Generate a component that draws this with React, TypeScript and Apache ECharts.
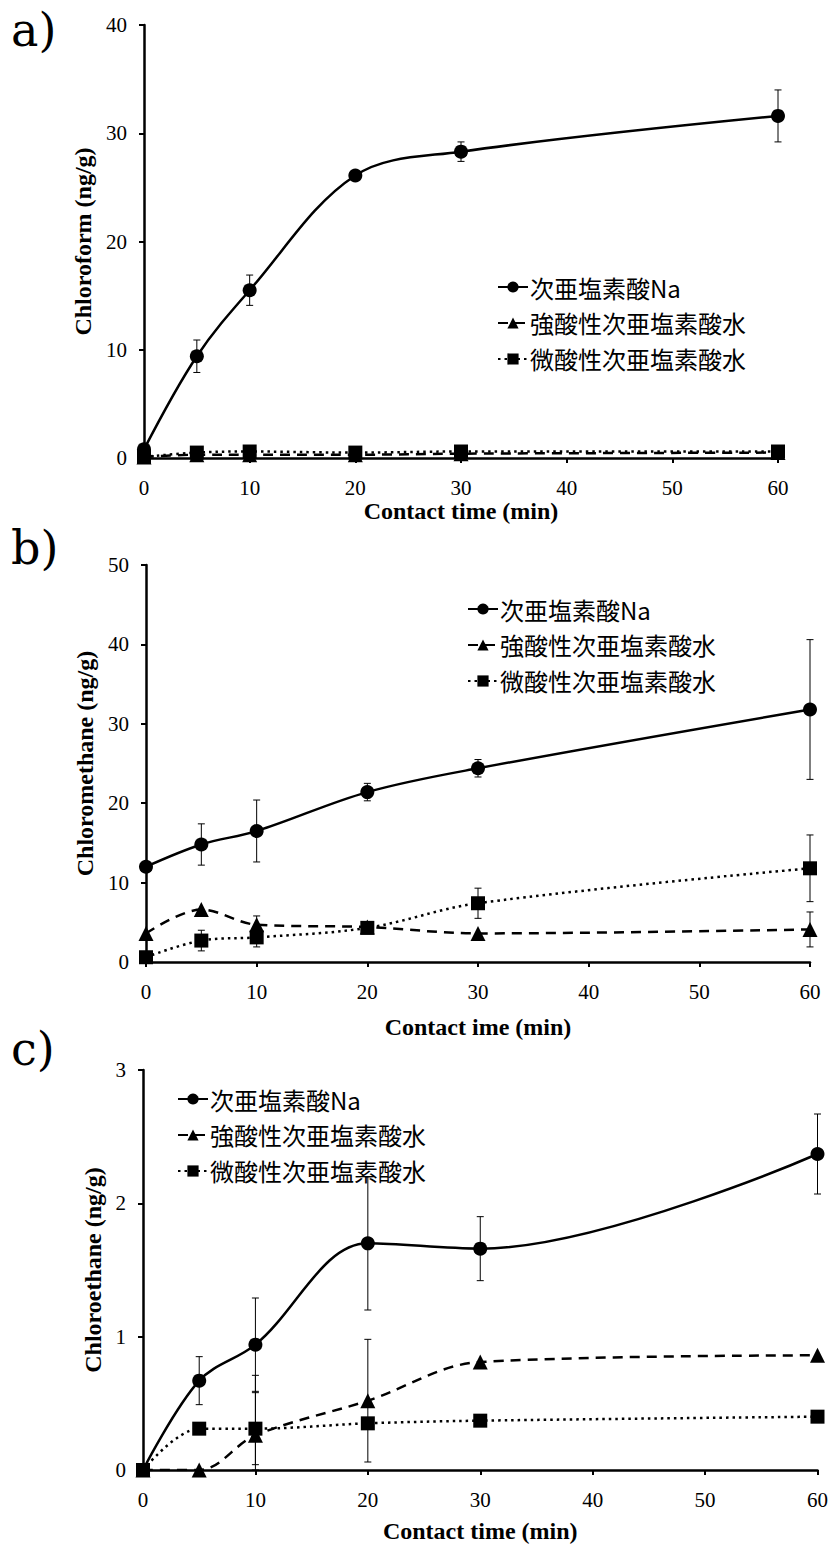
import React, { useEffect, useRef } from "react";
import * as echarts from "echarts";

const timeMin = [0, 5, 10, 20, 30, 60];
const xTicks = [0, 10, 20, 30, 40, 50, 60];
const seriesNames = ["次亜塩素酸Na", "強酸性次亜塩素酸水", "微酸性次亜塩素酸水"];

// Panel a) Chloroform
const aNa = [0.8, 9.4, 15.5, 26.1, 28.3, 31.6];
const aNaErr = [0, 1.5, 1.4, 0.3, 0.9, 2.4];
const aStrong = [0.1, 0.3, 0.3, 0.3, 0.4, 0.5];
const aStrongErr = [0, 0, 0, 0, 0, 0];
const aWeak = [0.1, 0.5, 0.6, 0.5, 0.6, 0.6];
const aWeakErr = [0, 0, 0, 0, 0, 0];

// Panel b) Chloromethane
const bNa = [12.0, 14.8, 16.5, 21.4, 24.4, 31.8];
const bNaErr = [0, 2.6, 3.9, 1.1, 1.1, 8.8];
const bStrong = [3.6, 6.6, 4.7, 4.4, 3.6, 4.1];
const bStrongErr = [0, 0, 1.1, 0, 0, 2.2];
const bWeak = [0.6, 2.7, 3.1, 4.3, 7.4, 11.8];
const bWeakErr = [0, 1.3, 1.2, 0, 1.9, 4.2];

// Panel c) Chloroethane
const cNa = [0, 0.67, 0.94, 1.7, 1.66, 2.37];
const cNaErr = [0, 0.18, 0.35, 0.5, 0.24, 0.3];
const cStrong = [0, 0, 0.26, 0.52, 0.81, 0.86];
const cStrongErr = [0, 0, 0.45, 0.46, 0, 0];
const cWeak = [0, 0.31, 0.31, 0.35, 0.37, 0.4];
const cWeakErr = [0, 0, 0.27, 0, 0, 0];

const yTitles = ["Chloroform (ng/g)", "Chloromethane (ng/g)", "Chloroethane (ng/g)"];
const xTitles = ["Contact time (min)", "Contact ime (min)", "Contact time (min)"];
const yMax = [40, 50, 3];
const yInterval = [10, 10, 1];
const panelLabels = ["a)", "b)", "c)"];

const SERIF = "'Liberation Serif', 'Times New Roman', serif";
const CJK = "'Noto Sans CJK JP', 'Noto Sans', sans-serif";

export default function App() {
  const ref = useRef<HTMLDivElement>(null);

  useEffect(() => {
    document.body.style.margin = "0";
    if (!ref.current) return;
    const chart = echarts.init(ref.current, null, { renderer: "svg" });

    const grids = [
      { left: 144, top: 25, width: 634, height: 433 },
      { left: 146, top: 565, width: 664, height: 397 },
      { left: 143, top: 1070, width: 675, height: 400 },
    ];
    const yNameGap = [45, 45, 36];
    const xNameGap = [31, 53, 49];
    const legendPos = [
      { left: 492, top: 270 },
      { left: 462, top: 592 },
      { left: 172, top: 1082 },
    ];
    const labelY = [34, 552, 1053];

    const panels = [
      { vals: [aNa, aStrong, aWeak], errs: [aNaErr, aStrongErr, aWeakErr] },
      { vals: [bNa, bStrong, bWeak], errs: [bNaErr, bStrongErr, bWeakErr] },
      { vals: [cNa, cStrong, cWeak], errs: [cNaErr, cStrongErr, cWeakErr] },
    ];

    const symbols = ["circle", "triangle", "rect"];
    const symSizes = [14, 15, 14];
    const lineTypes: any[] = ["solid", [10, 7], [2.5, 4]];

    const series: any[] = [];
    panels.forEach((p, pi) => {
      p.vals.forEach((vals, si) => {
        const errs = p.errs[si];
        const ebData: number[][] = [];
        timeMin.forEach((t, i) => {
          if (errs[i] > 0) {
            ebData.push([t, Math.max(0, vals[i] - errs[i]), vals[i] + errs[i]]);
          }
        });
        series.push({
          type: "custom",
          xAxisIndex: pi,
          yAxisIndex: pi,
          data: ebData,
          encode: { x: 0, y: [1, 2] },
          z: 1,
          silent: true,
          renderItem: (params: any, api: any) => {
            const x = api.value(0);
            const top = api.coord([x, api.value(2)]);
            const bot = api.coord([x, api.value(1)]);
            const cap = 3.5;
            const st = { stroke: "#000", lineWidth: 1 };
            return {
              type: "group",
              children: [
                { type: "line", shape: { x1: top[0], y1: top[1], x2: bot[0], y2: bot[1] }, style: st },
                { type: "line", shape: { x1: top[0] - cap, y1: top[1], x2: top[0] + cap, y2: top[1] }, style: st },
                { type: "line", shape: { x1: bot[0] - cap, y1: bot[1], x2: bot[0] + cap, y2: bot[1] }, style: st },
              ],
            };
          },
        });
        series.push({
          type: "line",
          name: seriesNames[si],
          xAxisIndex: pi,
          yAxisIndex: pi,
          data: timeMin.map((t, i) => [t, vals[i]]),
          smooth: 0.35,
          symbol: symbols[si],
          symbolSize: symSizes[si],
          showAllSymbol: true,
          z: 3 + si,
          itemStyle: { color: "#000" },
          lineStyle: { color: "#000", width: 2.5, type: lineTypes[si] },
        });
      });
    });

    const option: any = {
      animation: false,
      backgroundColor: "#fff",
      grid: grids,
      xAxis: grids.map((_, i) => ({
        type: "value",
        gridIndex: i,
        min: 0,
        max: 60,
        interval: 10,
        name: xTitles[i],
        nameLocation: "middle",
        nameGap: xNameGap[i],
        nameTextStyle: { fontFamily: SERIF, fontWeight: "bold", fontSize: 24, color: "#000" },
        axisLine: { onZero: false, lineStyle: { color: "#000", width: 2.5 } },
        axisTick: { show: true, length: 5, lineStyle: { color: "#000", width: 2 } },
        axisLabel: { fontFamily: SERIF, fontSize: 21, color: "#000", margin: 19 },
        splitLine: { show: false },
      })),
      yAxis: grids.map((_, i) => ({
        type: "value",
        gridIndex: i,
        min: 0,
        max: yMax[i],
        interval: yInterval[i],
        name: yTitles[i],
        nameLocation: "middle",
        nameGap: yNameGap[i],
        nameRotate: 90,
        nameTextStyle: { fontFamily: SERIF, fontWeight: "bold", fontSize: 24, color: "#000" },
        axisLine: { show: true, lineStyle: { color: "#000", width: 2.5 } },
        axisTick: { show: true, length: 5, lineStyle: { color: "#000", width: 2 } },
        axisLabel: { fontFamily: SERIF, fontSize: 21, color: "#000", margin: 17 },
        splitLine: { show: false },
      })),
      legend: legendPos.map((lp) => ({
        orient: "vertical",
        left: lp.left,
        top: lp.top,
        data: seriesNames,
        itemWidth: 30,
        itemHeight: 14,
        itemGap: 12,
        selectedMode: false,
        textStyle: { fontFamily: CJK, fontSize: 24, color: "#000", padding: [0, 0, 0, -3] },
      })),
      graphic: panelLabels.map((t, i) => ({
        type: "text",
        left: 11,
        top: labelY[i] - 27,
        style: { text: t, fontFamily: "'DejaVu Serif', serif", fontSize: 46, fill: "#000" },
      })),
      series,
    };

    chart.setOption(option);
    return () => chart.dispose();
  }, []);

  return <div ref={ref} style={{ width: 831, height: 1550 }} />;
}
